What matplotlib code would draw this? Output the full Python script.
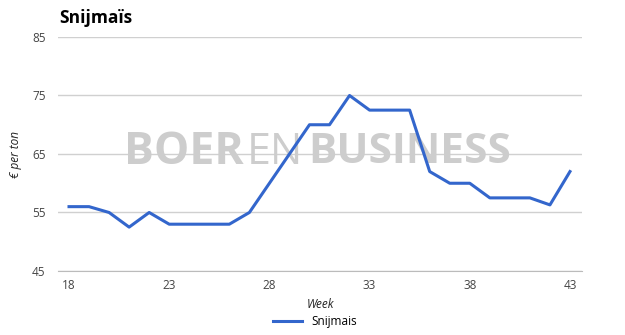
import matplotlib
matplotlib.use("Agg")
import matplotlib.pyplot as plt

weeks = list(range(18, 44))
prices = [56, 56, 55, 52.5, 55, 53, 53, 53, 53, 55, 60, 65, 70, 70, 75, 72.5, 72.5, 72.5,
          62, 60, 60, 57.5, 57.5, 57.5, 56.3, 62]
xticks = [18, 23, 28, 33, 38, 43]
yticks = [45, 55, 65, 75, 85]

plt.rcParams['font.family'] = ['Open Sans', 'DejaVu Sans']

fig = plt.figure(figsize=(6.25, 3.35), dpi=100)
ax = fig.add_axes([58/625, 1-271/335, (582-58)/625, (271-37)/335])

# watermark (behind the line)
wm_y = 1 - 153/335
ax.text(124/625, wm_y, "BOER", fontsize=32, fontweight='bold', color='#cdcdcd',
        va='center', ha='left', zorder=1, transform=fig.transFigure)
ax.text(247/625, wm_y, "EN", fontsize=31, fontweight='normal', color='#cdcdcd',
        va='center', ha='left', zorder=1, transform=fig.transFigure)
ax.text(511/625, wm_y, "BUSINESS", fontsize=30.5, fontweight='bold', color='#cdcdcd',
        va='center', ha='right', zorder=1, transform=fig.transFigure)

ax.plot(weeks, prices, color='#3366cc', lw=2.2, label='Snijmais', zorder=3)

ax.set_xlim(17.45, 43.6)
ax.set_ylim(45, 85)
ax.set_xticks(xticks)
ax.set_yticks(yticks)
ax.grid(axis='y', color='#d0d0d0', lw=1, zorder=0)
ax.set_axisbelow(True)
for s in ['top', 'right', 'left']:
    ax.spines[s].set_visible(False)
ax.spines['bottom'].set_color('#bbbbbb')
ax.tick_params(length=0, labelsize=8.5, labelcolor='#444444')
ax.tick_params(axis='y', pad=9)
ax.tick_params(axis='x', pad=6)
ax.set_xlabel('Week', fontstyle='italic', fontsize=8.5, color='#222222', labelpad=4)
ax.set_ylabel('€ per ton', fontstyle='italic', fontsize=8.5, color='#222222')
ax.yaxis.set_label_coords(15/625, 0.5, transform=fig.transFigure)
ax.yaxis.label.set_verticalalignment('center')
ax.yaxis.label.set_y(1 - 154/335)

fig.text(59/625, 1-18/335, 'Snijmaïs', fontsize=12.5, fontweight='bold', va='center', ha='left')

leg = fig.legend(*ax.get_legend_handles_labels(), loc='center', bbox_to_anchor=(315/625, 1-322/335),
                 frameon=False, fontsize=8.5, handlelength=2.5)

fig.savefig('out.png', dpi=100)
